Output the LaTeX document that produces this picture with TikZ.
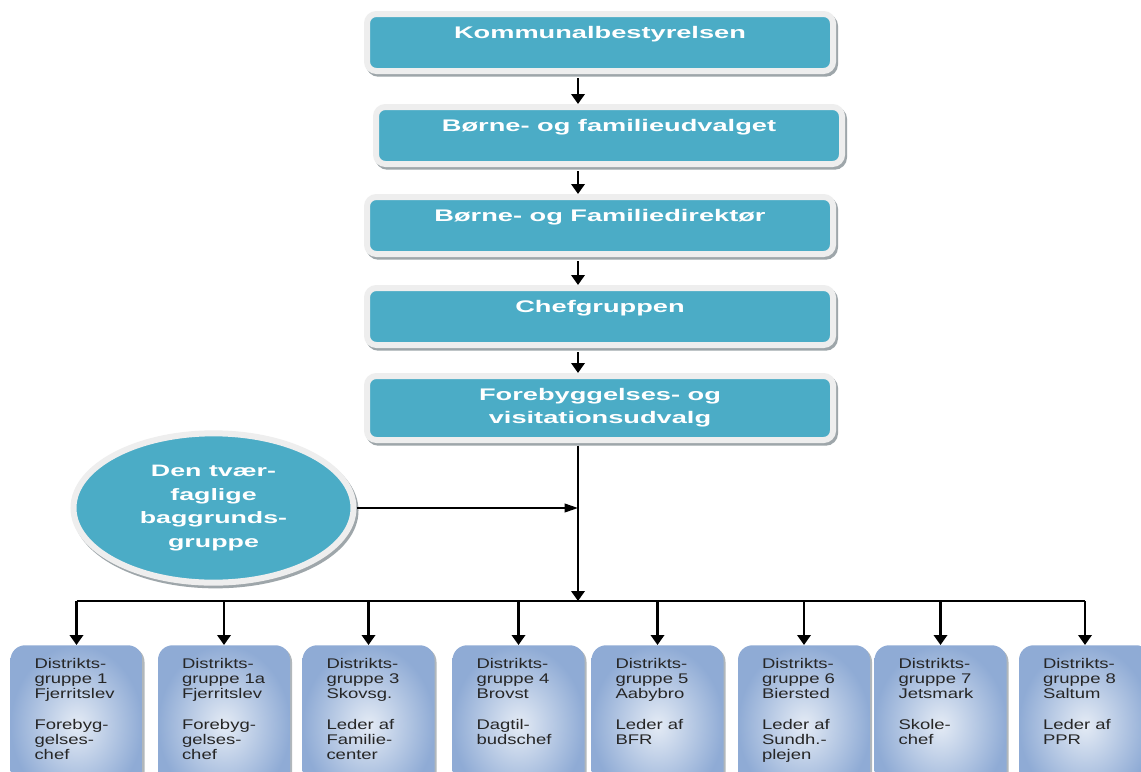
\documentclass[tikz,border=0pt]{standalone}
\usepackage{fontspec}
\setmainfont{Liberation Sans}
\newfontfamily\headfont{Liberation Sans}[FakeStretch=1.62]
\newfontfamily\distfont{Liberation Sans}[FakeStretch=1.32]
\usetikzlibrary{shapes.geometric,arrows.meta,shadows}

\definecolor{boxteal}{RGB}{75,172,198}
\definecolor{rimgray}{RGB}{238,238,238}
\definecolor{shadowgray}{RGB}{158,166,170}
\definecolor{distdark}{RGB}{143,171,213}
\definecolor{distlight}{RGB}{228,235,245}

\newcommand\dtext[1]{\parbox[c][100pt][t]{63pt}{\raggedright #1}}

\tikzset{
  topbox/.style={rectangle, rounded corners=7pt, fill=boxteal, draw=rimgray, line width=4.5pt,
    drop shadow={shadow xshift=1.5pt, shadow yshift=-2pt, fill=shadowgray, draw=shadowgray,
      line width=4.5pt, opacity=1},
    minimum width=349.5pt, text=white,
    font=\headfont\bfseries\fontsize{12.6pt}{17.25pt}\selectfont},
  oneline/.style={anchor=north, inner ysep=9pt, text height=9pt, text depth=15.75pt},
  distbox/.style={rectangle, rounded corners=11pt, anchor=north,
    inner color=distlight, outer color=distdark,
    drop shadow={shadow xshift=1.5pt, shadow yshift=-1.5pt, fill=shadowgray, opacity=.8},
    inner xsep=18pt, inner ysep=9.75pt, text=black!85,
    font=\distfont\fontsize{10.5pt}{11.4pt}\selectfont},
  arr/.style={-{Triangle[width=10pt,length=7.5pt]}, line width=2.2pt},
  thinarr/.style={-{Triangle[width=6.5pt,length=10pt]}, line width=1.3pt}
}

\begin{document}
\begin{tikzpicture}[x=0.75pt,y=-0.75pt]
\useasboundingbox (0,0) rectangle (1141,771);
\fill[white] (0,0) rectangle (1141,771);
\clip (0,0) rectangle (1141,771);

\coordinate (spine) at (578,0);
\coordinate (bus) at (578,601);

% chain of boxes
\node[topbox,oneline] (kb)  at (600,11)  {Kommunalbestyrelsen};
\node[topbox,oneline] (bfu) at (609,104) {Børne- og familieudvalget};
\node[topbox,oneline] (bfd) at (600,194) {Børne- og Familiedirektør};
\node[topbox,oneline] (chef) at (600,285) {Chefgruppen};
\node[topbox,align=center,minimum height=48pt] (fvu) at (600,408)
  {Forebyggelses- og\\visitationsudvalg};

\node[ellipse, fill=boxteal, draw=rimgray, line width=4.5pt,
  drop shadow={shadow xshift=1.5pt, shadow yshift=-2pt, fill=shadowgray, draw=shadowgray,
    line width=4.5pt, opacity=1},
  minimum width=210pt, minimum height=112pt, inner sep=0pt, align=center, text=white,
  font=\headfont\bfseries\fontsize{12.4pt}{17.8pt}\selectfont] (tvg) at (213.5,508)
  {Den tvær-\\faglige\\baggrunds-\\gruppe};

% district groups
\foreach \n/\x/\t in {
  1/76.5/{Distrikts-\\gruppe 1\\Fjerritslev\\[\baselineskip]Forebyg-\\gelses-\\chef},
  2/224/{Distrikts-\\gruppe 1a\\Fjerritslev\\[\baselineskip]Forebyg-\\gelses-\\chef},
  3/368.5/{Distrikts-\\gruppe 3\\Skovsg.\\[\baselineskip]Leder af\\Familie-\\center},
  4/518.5/{Distrikts-\\gruppe 4\\Brovst\\[\baselineskip]Dagtil-\\budschef},
  5/657.5/{Distrikts-\\gruppe 5\\Aabybro\\[\baselineskip]Leder af\\BFR},
  6/804/{Distrikts-\\gruppe 6\\Biersted\\[\baselineskip]Leder af\\Sundh.-\\plejen},
  7/940.5/{Distrikts-\\gruppe 7\\Jetsmark\\[\baselineskip]Skole-\\chef},
  8/1085/{Distrikts-\\gruppe 8\\Saltum\\[\baselineskip]Leder af\\PPR}}
  \node[distbox] (dg\n) at (\x,645) {\dtext{\t}};

% arrows
\draw[arr,shorten <=3pt] (kb.south -| spine) -- (bfu.north -| spine);
\draw[arr,shorten <=3pt] (bfu.south -| spine) -- (bfd.north -| spine);
\draw[arr,shorten <=3pt] (bfd.south -| spine) -- (chef.north -| spine);
\draw[arr,shorten <=3pt] (chef.south -| spine) -- (fvu.north -| spine);
\draw[arr,shorten <=2pt] (fvu.south -| spine) -- (bus);
\draw[thinarr] (tvg.east) -- (tvg.east -| spine);
\draw[line width=1.5pt] (dg1.north |- bus) -- (dg8.north |- bus);
\foreach \n in {1,...,8}
  \draw[arr] (dg\n.north |- bus) -- (dg\n.north);
\end{tikzpicture}
\end{document}
